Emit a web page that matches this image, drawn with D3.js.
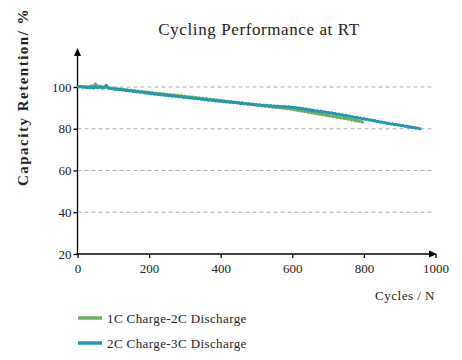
<!DOCTYPE html>
<html><head><meta charset="utf-8">
<script src="https://cdn.jsdelivr.net/npm/d3@7"></script>
<style>body{margin:0;background:#fff}svg{display:block}text{font-family:"Liberation Serif","Times New Roman",serif;fill:#222}</style>
</head><body><svg id="c" width="462" height="360"></svg>
<script>
const title = "Cycling Performance at RT";
const yLabel = "Capacity Retention/ %";
const xLabel = "Cycles / N";
const seriesNames = ["1C Charge-2C Discharge", "2C Charge-3C Discharge"];
const seriesColors = ["#6daf5f", "#2298ad"];
const xTicks = [0, 200, 400, 600, 800, 1000];
const yTicks = [20, 40, 60, 80, 100];
const cyclesA = d3.range(0, 801, 5);
const retentionA = [
100.5,100.2,100.4,100.0,100.3,99.9,100.2,100.0,100.6,100.1,101.6,100.3,100.4,99.9,100.1,99.7,99.9,99.5,99.7,99.4,
99.5,99.1,99.3,98.9,99.1,98.7,98.9,98.5,98.7,98.3,98.5,98.1,98.3,97.9,98.1,97.7,97.9,97.5,97.8,97.4,
97.5,97.1,97.3,96.9,97.2,96.7,97.0,96.5,96.8,96.4,96.6,96.2,96.4,96.0,96.3,95.8,96.1,95.6,95.9,95.4,
95.6,95.2,95.4,95.0,95.3,94.8,95.1,94.6,94.9,94.4,94.7,94.2,94.5,94.0,94.3,93.8,94.1,93.6,93.9,93.4,
93.6,93.2,93.4,93.0,93.2,92.8,93.0,92.6,92.8,92.4,92.6,92.2,92.4,92.0,92.2,91.8,92.0,91.6,91.8,91.4,
91.6,91.2,91.3,90.9,91.1,90.7,90.9,90.5,90.7,90.3,90.5,90.1,90.3,89.9,90.1,89.7,89.9,89.5,89.7,89.3,
89.5,89.0,89.2,88.7,88.9,88.4,88.6,88.1,88.3,87.8,88.0,87.5,87.7,87.2,87.4,86.9,87.1,86.6,86.8,86.3,
86.5,86.0,86.2,85.7,85.9,85.4,85.6,85.1,85.3,84.8,85.0,84.5,84.7,84.1,84.4,83.8,84.0,83.5,83.7,83.2,
83.3];
const cyclesB = d3.range(0, 961, 5);
const retentionB = [
100.3,100.0,100.2,99.8,100.1,99.7,99.9,99.5,99.8,99.4,100.1,99.6,99.7,100.3,99.4,99.9,100.9,99.6,99.3,99.1,
99.1,98.8,99.0,98.7,98.9,98.5,98.6,98.2,98.4,98.0,98.3,97.8,98.0,97.6,97.8,97.4,97.6,97.2,97.3,97.0,
97.1,96.7,96.9,96.5,96.7,96.3,96.5,96.1,96.4,95.9,96.1,95.7,96.0,95.5,95.8,95.4,95.6,95.2,95.5,95.0,
95.2,94.8,95.0,94.6,94.9,94.4,94.7,94.3,94.5,94.1,94.3,93.8,94.1,93.6,93.9,93.5,93.7,93.2,93.5,93.1,
93.3,92.9,93.2,92.7,93.0,92.6,92.9,92.4,92.7,92.3,92.5,92.0,92.4,91.9,92.1,91.7,92.0,91.6,91.8,91.4,
91.6,91.3,91.5,91.1,91.4,91.0,91.3,90.8,91.2,90.7,91.0,90.6,90.9,90.5,90.8,90.4,90.7,90.3,90.6,90.2,
90.4,90.1,90.2,89.8,90.0,89.5,89.8,89.2,89.5,88.9,89.2,88.7,88.9,88.4,88.7,88.1,88.5,87.9,88.2,87.7,
87.9,87.4,87.7,87.1,87.4,86.8,87.1,86.5,86.8,86.2,86.5,85.9,86.2,85.6,85.8,85.3,85.6,85.0,85.2,84.7,
84.9,84.4,84.6,84.1,84.3,83.8,84.0,83.4,83.6,83.1,83.3,82.8,83.0,82.5,82.7,82.2,82.4,81.9,82.1,81.7,
81.8,81.4,81.6,81.1,81.3,80.8,81.0,80.5,80.7,80.2,80.4,80.0,80.1];

const svg = d3.select("#c");
const x = d3.scaleLinear().domain([0, 1000]).range([77.5, 435.5]);
const y = d3.scaleLinear().domain([20, 100]).range([254, 87]);
const yTop = 48;
const serif = '"Liberation Serif","Times New Roman",serif';

// gridlines
svg.append("g").selectAll("line").data(yTicks.filter(d => d > 20)).join("line")
  .attr("x1", x(0)).attr("x2", 433).attr("y1", d => y(d)).attr("y2", d => y(d))
  .attr("stroke", "#aaa").attr("stroke-width", 1).attr("stroke-dasharray", "4,3");

// axes
const xAxis = d3.axisBottom(x).tickValues(xTicks).tickSize(4).tickPadding(6).tickFormat(d3.format("d"));
const gx = svg.append("g").attr("transform", `translate(0,${y(20)})`).call(xAxis).attr("font-family", serif);
gx.select(".domain").remove();
gx.selectAll("line").attr("stroke", "#000").attr("stroke-width", 1.3);
gx.selectAll("text").style("font-family", serif).style("font-size", "13px").attr("fill", "#222");
const yAxis = d3.axisLeft(y).tickValues(yTicks).tickSize(4).tickPadding(2);
const gy = svg.append("g").attr("transform", `translate(${x(0)},0)`).call(yAxis).attr("font-family", serif);
gy.select(".domain").remove();
gy.selectAll("line").attr("stroke", "#000").attr("stroke-width", 1.3);
gy.selectAll("text").style("font-family", serif).style("font-size", "13px").attr("fill", "#222");

svg.append("line").attr("x1", x(0)).attr("x2", x(0)).attr("y1", y(20) + 1).attr("y2", yTop + 4).attr("stroke", "#000").attr("stroke-width", 1.3);
svg.append("line").attr("x1", x(0) - 1).attr("x2", 432).attr("y1", y(20)).attr("y2", y(20)).attr("stroke", "#000").attr("stroke-width", 1.3);
svg.append("path").attr("d", `M${x(0)},${yTop} L${x(0) - 3.5},${yTop + 8} L${x(0) + 3.5},${yTop + 8} Z`).attr("fill", "#000");
svg.append("path").attr("d", `M${437},${y(20)} L${429},${y(20) - 3.5} L${429},${y(20) + 3.5} Z`).attr("fill", "#000");

// series
const line = d3.line().x(d => x(d[0])).y(d => y(d[1]));
const dataA = cyclesA.map((c, i) => [c, retentionA[i]]);
const dataB = cyclesB.map((c, i) => [c, retentionB[i]]);
svg.append("path").datum(dataA).attr("d", line).attr("fill", "none").attr("stroke", seriesColors[0]).attr("stroke-width", 2.8).attr("stroke-linejoin", "round");
svg.append("path").datum(dataB).attr("d", line).attr("fill", "none").attr("stroke", seriesColors[1]).attr("stroke-width", 2.8).attr("stroke-linejoin", "round");

// labels
svg.append("text").attr("x", 259).attr("y", 35).attr("text-anchor", "middle").attr("font-size", 17).attr("letter-spacing", 0.6).text(title);
svg.append("text").attr("transform", "translate(28,97) rotate(-90)").attr("text-anchor", "middle").attr("font-size", 15).attr("font-weight", "bold").attr("letter-spacing", 1.5).text(yLabel);
svg.append("text").attr("x", 435).attr("y", 300).attr("text-anchor", "end").attr("font-size", 13).attr("letter-spacing", 0.5).text(xLabel);

// legend
const lg = svg.append("g").selectAll("g").data(seriesNames).join("g").attr("transform", (d, i) => `translate(78,${318 + i * 25})`);
lg.append("line").attr("x1", 0).attr("x2", 24).attr("y1", 0).attr("y2", 0).attr("stroke", (d, i) => seriesColors[i]).attr("stroke-width", 3.5);
lg.append("text").attr("x", 29).attr("y", 4.5).attr("font-size", 13).attr("letter-spacing", 0.4).text(d => d);
</script></body></html>
